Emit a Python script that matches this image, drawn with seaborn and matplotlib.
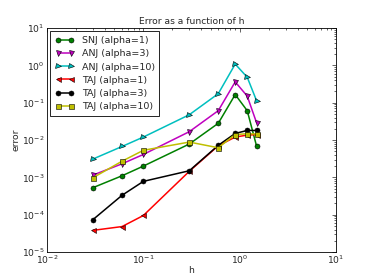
import pandas as pd
import numpy as np
import matplotlib
matplotlib.use("Agg")
import matplotlib.pyplot as plt
import seaborn as sns

# ================================================
#  Datos
# ================================================

h = [0.03, 0.06, 0.1, 0.3, 0.6, 0.9, 1.2, 1.5]

snj_a1 = [5.3e-4, 1.1e-3, 2.0e-3, 7.8e-3, 2.8e-2, 1.65e-1, 6.1e-2, 6.9e-3]
anj_a3 = [1.15e-3, 2.3e-3, 4.1e-3, 1.67e-2, 6.1e-2, 3.6e-1, 1.5e-1, 2.9e-2]
anj_a10 = [3.1e-3, 6.7e-3, 1.2e-2, 4.75e-2, 1.74e-1, 1.08, 4.8e-1, 1.13e-1]
taj_a1 = [3.8e-5, 4.8e-5, 9.5e-5, 1.45e-3, 7.0e-3, 1.2e-2, 1.35e-2, 1.4e-2]
taj_a3 = [7.4e-5, 3.3e-4, 7.8e-4, 1.5e-3, 7.2e-3, 1.5e-2, 1.8e-2, 1.8e-2]
taj_a10 = [9.8e-4, 2.7e-3, 5.3e-3, 8.8e-3, 6.2e-3, 1.4e-2, 1.47e-2, 1.45e-2]

series_names = ['SNJ (alpha=1)', 'ANJ (alpha=3)', 'ANJ (alpha=10)',
                'TAJ (alpha=1)', 'TAJ (alpha=3)', 'TAJ (alpha=10)']
series_vals = [snj_a1, anj_a3, anj_a10, taj_a1, taj_a3, taj_a10]
colores = ['green', 'm', 'c', 'r', 'k', 'y']
marcadores = ['o', 'v', '>', '<', 'o', 's']

# Armo el DataFrame largo
df = pd.concat([pd.DataFrame({'h': h, 'error': v, 'serie': n})
                for n, v in zip(series_names, series_vals)], ignore_index=True)

# ================================================
#  Grafico
# ================================================

sns.set_style("white")
plt.rcParams['font.family'] = ['DejaVu Sans']
plt.rcParams['font.size'] = 6.6
plt.rcParams['mathtext.default'] = 'regular'

fig, ax = plt.subplots(figsize=(3.74, 2.8), dpi=100)
fig.subplots_adjust(left=0.126, right=0.898, top=0.9, bottom=0.1)

for nombre, color, marca in zip(series_names, colores, marcadores):
    sns.lineplot(data=df[df['serie'] == nombre], x='h', y='error', ax=ax,
                 color=color, marker=marca, markersize=3.6, linewidth=1.1,
                 markeredgecolor='k', markeredgewidth=0.4, label=nombre)

ax.set_xscale('log')
ax.set_yscale('log')
ax.set_xlim(1e-2, 1e1)
ax.set_ylim(1e-5, 1e1)

ax.set_title('Error as a function of h', fontsize=6.6, pad=3)
ax.set_xlabel('h', fontsize=6.6)
ax.set_ylabel('error', fontsize=6.6, labelpad=1)
ax.xaxis.set_label_coords(0.5, -0.062)

ax.tick_params(which='both', direction='in', top=True, right=True,
               labelsize=6.6)
ax.tick_params(axis='x', pad=1.5)
ax.tick_params(axis='y', pad=2)
ax.tick_params(which='major', length=3, width=0.5)
ax.tick_params(which='minor', length=1.5, width=0.5)
for s in ax.spines.values():
    s.set_color('k')
    s.set_linewidth(0.6)

leg = ax.legend(loc='upper left', numpoints=2, fontsize=6.8, fancybox=False,
                framealpha=1, borderpad=0.5, handlelength=2.0,
                handletextpad=0.8, labelspacing=0.45, borderaxespad=0.35)
leg.get_frame().set_edgecolor('k')
leg.get_frame().set_linewidth(0.6)

plt.savefig('out.png', dpi=100)
